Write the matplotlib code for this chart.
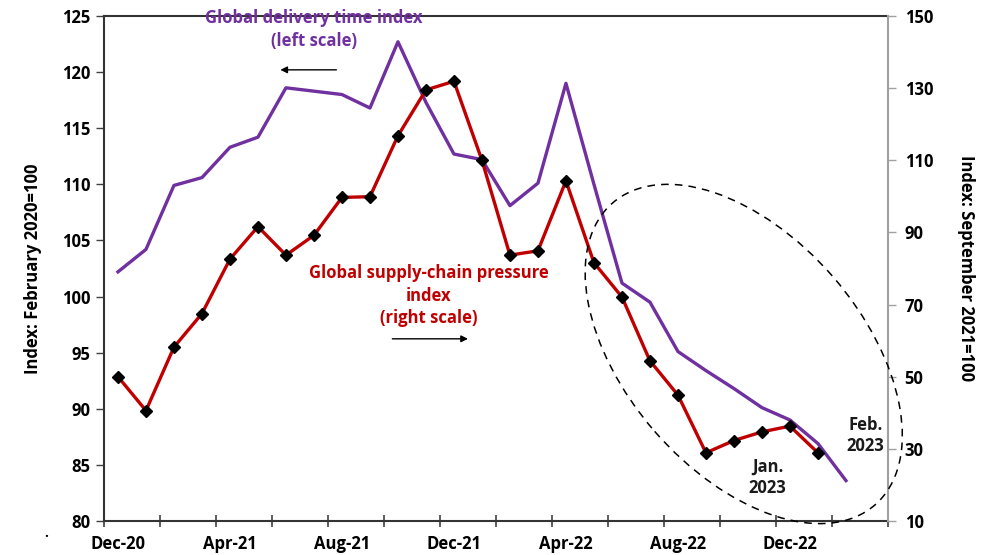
import matplotlib.pyplot as plt
import matplotlib.transforms as transforms
from matplotlib.patches import Ellipse

plt.rcParams['font.family'] = ['Open Sans', 'DejaVu Sans']
plt.rcParams['font.weight'] = 'bold'

months = ['Dec-20', 'Jan-21', 'Feb-21', 'Mar-21', 'Apr-21', 'May-21', 'Jun-21',
          'Jul-21', 'Aug-21', 'Sep-21', 'Oct-21', 'Nov-21', 'Dec-21', 'Jan-22',
          'Feb-22', 'Mar-22', 'Apr-22', 'May-22', 'Jun-22', 'Jul-22', 'Aug-22',
          'Sep-22', 'Oct-22', 'Nov-22', 'Dec-22', 'Jan-23', 'Feb-23', 'Mar-23']

# global delivery time index (left scale), Dec-20 .. Feb-23
delivery = [102.2, 104.2, 109.9, 110.6, 113.3, 114.2, 118.6, 118.3, 118.0,
            116.8, 122.7, 117.3, 112.7, 112.2, 108.1, 110.1, 119.0, 110.0,
            101.2, 99.5, 95.1, 93.4, 91.8, 90.1, 89.0, 86.9, 83.6]

# global supply-chain pressure index (right scale), Dec-20 .. Jan-23
pressure = [50.0, 40.6, 58.2, 67.5, 82.6, 91.6, 83.7, 89.2, 99.7, 99.9,
            116.8, 129.5, 131.9, 110.0, 83.7, 84.9, 104.3, 81.6, 72.1, 54.4,
            44.9, 28.9, 32.3, 34.7, 36.3, 28.9]

left_ticks = [80, 85, 90, 95, 100, 105, 110, 115, 120, 125]
right_ticks = [10, 30, 50, 70, 90, 110, 130, 150]

purple = '#7030A0'
red = '#C00000'

fig = plt.figure(figsize=(9.92, 5.55), dpi=100)
ax = fig.add_axes([0.1048, 0.0613, 0.7903, 0.9099])
ax2 = ax.twinx()

ax.plot(range(len(delivery)), delivery, color=purple, lw=2.4, zorder=3)
ax2.plot(range(len(pressure)), pressure, color=red, lw=2.4,
         marker='D', markersize=6.5, markerfacecolor='black',
         markeredgecolor='black', zorder=4)

ax.set_xlim(-0.5, len(months) - 0.5)
ax.set_ylim(80, 125)
ax2.set_ylim(10, 150)

ax.set_xticks(range(0, len(months), 4))
ax.set_xticklabels(months[::4])
ax.set_xticks([i - 0.5 for i in range(0, len(months) + 1, 2)], minor=True)
ax.tick_params(axis='x', which='major', length=0, pad=10, labelsize=12)
ax.tick_params(axis='x', which='minor', direction='inout', length=8,
               width=1.2, color='#404040')

ax.set_yticks(left_ticks)
ax.tick_params(axis='y', length=6, width=1, color='#404040', labelsize=12, pad=4)
ax2.set_yticks(right_ticks)
ax2.tick_params(axis='y', length=6, width=1, color='#A0A0A0', labelsize=12, pad=6)

for s in ['left', 'bottom', 'top']:
    ax.spines[s].set_color('#333333')
    ax.spines[s].set_linewidth(1.5)
ax2.spines['top'].set_visible(False)
ax2.spines['left'].set_visible(False)
ax2.spines['bottom'].set_visible(False)
ax2.spines['right'].set_color('#A0A0A0')
ax2.spines['right'].set_linewidth(1.5)
ax.spines['right'].set_visible(False)

ax.set_ylabel('Index: February 2020=100', fontsize=12, fontweight='bold', labelpad=14)
ax2.set_ylabel('Index: September 2021=100', fontsize=12, fontweight='bold',
               rotation=270, labelpad=30)

# annotations
ax.text(7, 123.8, 'Global delivery time index\n(left scale)', color=purple,
        fontsize=12, fontweight='bold', ha='center', va='center', linespacing=1.3)
ax.annotate('', xy=(5.7, 120.2), xytext=(7.9, 120.2),
            arrowprops=dict(arrowstyle='-|>', color='black', lw=1, mutation_scale=10))

ax2.text(11.1, 72.5, 'Global supply-chain pressure\nindex\n(right scale)', color=red,
         fontsize=12, fontweight='bold', ha='center', va='center', linespacing=1.35)
ax2.annotate('', xy=(12.6, 60.5), xytext=(9.7, 60.5),
             arrowprops=dict(arrowstyle='-|>', color='black', lw=1, mutation_scale=10))

ax2.text(23.2, 22.0, 'Jan.\n2023', fontsize=12, fontweight='bold',
         ha='center', va='center', color='#1a1a1a', linespacing=1.25)
ax2.text(26.7, 33.7, 'Feb.\n2023', fontsize=12, fontweight='bold',
         ha='center', va='center', color='#1a1a1a', linespacing=1.25)

# dashed ellipse around the recent months
trans = fig.dpi_scale_trans + transforms.ScaledTranslation(22.35, 56.3, ax2.transData)
ax2.add_patch(Ellipse((0, 0), width=4.0, height=2.36, angle=-49, transform=trans,
                      fill=False, ls=(0, (5, 4)), lw=1.1, color='black',
                      clip_on=False, zorder=5))

fig.text(0.047, 0.04, '.', fontsize=10, ha='center', va='center')

fig.savefig('out.png', dpi=100)
plt.close()
